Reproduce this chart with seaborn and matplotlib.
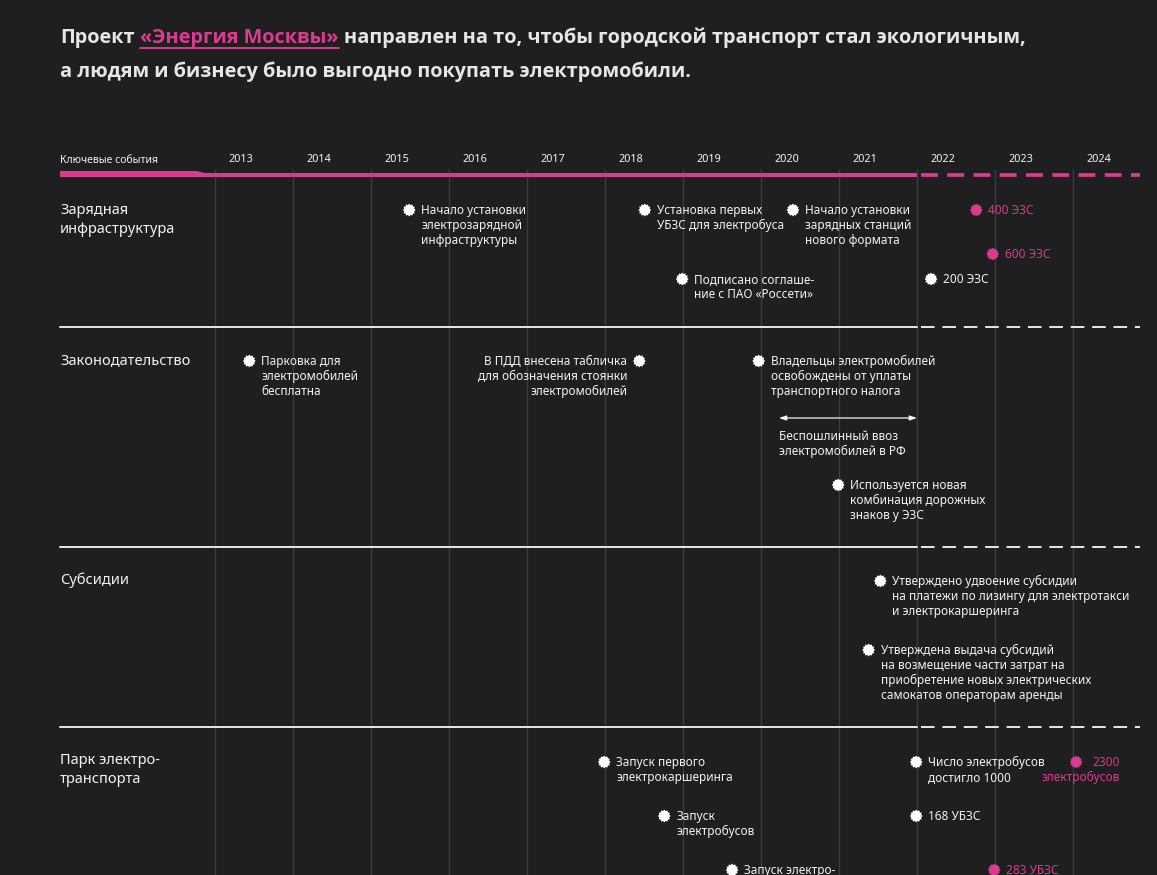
import numpy as np
import pandas as pd
import matplotlib.pyplot as plt
import seaborn as sns

# ---- data ----
years = list(range(2013, 2025))
forecast_from = 2022  # timeline after this year is dashed (plans)

section_names = ["Зарядная\nинфраструктура", "Законодательство",
                 "Субсидии", "Парк электро-\nтранспорта"]

ev_section = [0, 0, 0, 0, 0, 0, 0,
              1, 1, 1, 1,
              2, 2,
              3, 3, 3, 3, 3, 3, 3]
ev_year = [2015.49, 2018.51, 2020.41, 2022.76, 2022.97, 2018.99, 2022.18,
           2013.44, 2018.44, 2019.97, 2020.99,
           2021.53, 2021.38,
           2017.99, 2018.76, 2019.63, 2021.99, 2024.04, 2021.99, 2022.99]
ev_text = [
    "Начало установки\nэлектрозарядной\nинфраструктуры",
    "Установка первых\nУБЗС для электробуса",
    "Начало установки\nзарядных станций\nнового формата",
    "400 ЭЗС",
    "600 ЭЗС",
    "Подписано соглаше-\nние с ПАО «Россети»",
    "200 ЭЗС",
    "Парковка для\nэлектромобилей\nбесплатна",
    "В ПДД внесена табличка\nдля обозначения стоянки\nэлектромобилей",
    "Владельцы электромобилей\nосвобождены от уплаты\nтранспортного налога",
    "Используется новая\nкомбинация дорожных\nзнаков у ЭЗС",
    "Утверждено удвоение субсидии\nна платежи по лизингу для электротакси\nи электрокаршеринга",
    "Утверждена выдача субсидий\nна возмещение части затрат на\nприобретение новых электрических\nсамокатов операторам аренды",
    "Запуск первого\nэлектрокаршеринга",
    "Запуск\nэлектробусов",
    "Запуск электро-",
    "Число электробусов\nдостигло 1000",
    "2300\nэлектробусов",
    "168 УБЗС",
    "283 УБЗС",
]
ev_status = ["факт", "факт", "факт", "план", "план", "факт", "факт",
             "факт", "факт", "факт", "факт",
             "факт", "факт",
             "факт", "факт", "факт", "факт", "план", "факт", "план"]

duty_free_span = [2020.23, 2022.0]
duty_free_text = "Беспошлинный ввоз\nэлектромобилей в РФ"

title_1a = "Проект"
title_1b = "«Энергия Москвы»"
title_1c = "направлен на то, чтобы городской транспорт стал экологичным,"
title_2 = "а людям и бизнесу было выгодно покупать электромобили."

# ---- layout / style ----
W, H = 1157, 875
PX = 78.0      # pixels per year
X0 = 215.0     # pixel of the 2013 line
def yr(px):
    return 2013 + (px - X0) / PX

BG = "#1f1f1f"
PINK = "#d83b8f"
WHITE = "#f2f2f2"
GRID = "#3b3b3b"

section_top = [177, 327, 547, 727]
ev_dy = [33, 33, 33, 33, 77, 102, 102,
         34, 34, 34, 158,
         34, 103,
         35, 89, 143, 35, 35, 89, 143]
ev_dx = [12] * len(ev_year)
ev_ha = ["left"] * len(ev_year)
ev_dx[8], ev_ha[8] = -12, "right"
ev_dx[17], ev_ha[17] = 44, "right"

sns.set_theme(style="dark", rc={"axes.facecolor": BG, "figure.facecolor": BG})
plt.rcParams["font.family"] = ["Noto Sans", "DejaVu Sans"]

fig = plt.figure(figsize=(W / 100, H / 100), dpi=100)
ax = fig.add_axes([0, 0, 1, 1])
ax.set_xlim(yr(0), yr(W))
ax.set_ylim(H, 0)
ax.axis("off")


def text_block(x, y_base, txt, step, ha="left", **kw):
    # draw line by line so that the spacing is even
    for i, line in enumerate(txt.split("\n")):
        ax.text(x, y_base + i * step, line, ha=ha, va="baseline", **kw)


# year grid
ax.vlines(years, 169, H, color=GRID, lw=1, zorder=1)
for y in years:
    ax.text(y + 13 / PX, 162, str(y), color=WHITE, fontsize=7.8,
            ha="left", va="baseline")
ax.text(yr(60), 163, "Ключевые события", color=WHITE, fontsize=7.5,
        ha="left", va="baseline")

# header bar
ax.fill([yr(60), yr(197), yr(206), yr(206), yr(60)],
        [171, 171, 173.3, 177, 177], color=PINK, lw=0, zorder=2)
ax.fill([yr(200), forecast_from, forecast_from, yr(200)],
        [173.3, 173.3, 177, 177], color=PINK, lw=0, zorder=2)
ax.plot([forecast_from + 4 / PX, yr(1140)], [175.2, 175.2], color=PINK,
        lw=2.7, dashes=(4.5, 2.5), solid_capstyle="butt", zorder=2)

# section separators
for top in section_top[1:]:
    ax.plot([yr(60), forecast_from], [top, top], color="#e8e8e8", lw=1.4, zorder=2)
    ax.plot([forecast_from + 4 / PX, yr(1140)], [top, top], color="#e8e8e8",
            lw=1.4, dashes=(7, 4), zorder=2)

for name, top in zip(section_names, section_top):
    text_block(yr(60), top + 37, name, 19, color=WHITE, fontsize=10.5)

# events
ev_y = [section_top[s] + d for s, d in zip(ev_section, ev_dy)]
df = pd.DataFrame({"year": ev_year, "y": ev_y, "status": ev_status})
ang = np.linspace(0, 2 * np.pi, 25)[:-1]
rad = np.where(np.arange(24) % 2 == 0, 1.0, 0.8)
burst = np.column_stack([rad * np.cos(ang), rad * np.sin(ang)])
sns.scatterplot(data=df, x="year", y="y", hue="status",
                palette={"факт": "white", "план": PINK}, marker=burst,
                s=85, linewidth=0, legend=False, ax=ax, zorder=4)

for x, y, t, st, dx, ha in zip(ev_year, ev_y, ev_text, ev_status, ev_dx, ev_ha):
    text_block(x + dx / PX, y + 4.3, t, 15, ha=ha,
               color=PINK if st == "план" else WHITE, fontsize=8.5, zorder=4)

# duty-free import period
arr_y = section_top[1] + 91
ax.annotate("", xy=(duty_free_span[1], arr_y), xytext=(duty_free_span[0], arr_y),
            arrowprops=dict(arrowstyle="<|-|>,head_length=0.35,head_width=0.12",
                            color=WHITE, lw=0.9, shrinkA=0, shrinkB=0))
text_block(duty_free_span[0], arr_y + 21.5, duty_free_text, 15,
           color=WHITE, fontsize=8.5)

# title
tkw = dict(fontsize=14.3, fontweight="bold", family=["Open Sans", "DejaVu Sans"])
t1 = ax.text(yr(60), 43, title_1a, color="#e6e6e6", ha="left", va="baseline", **tkw)
t2 = ax.annotate(title_1b, xy=(1, 0), xycoords=t1, xytext=(4, 0),
                 textcoords="offset points", color=PINK, ha="left", va="bottom", **tkw)
t3 = ax.annotate(title_1c, xy=(1, 0), xycoords=t2, xytext=(4, 0),
                 textcoords="offset points", color="#e6e6e6", ha="left", va="bottom", **tkw)
ax.text(yr(60), 77, title_2, color="#e6e6e6", ha="left", va="baseline", **tkw)

fig.canvas.draw()
bb = t2.get_window_extent().transformed(ax.transData.inverted())
ax.plot([bb.x0, bb.x1], [47.5, 47.5], color=PINK, lw=1.4)

fig.savefig("out.png", dpi=100, facecolor=BG)
